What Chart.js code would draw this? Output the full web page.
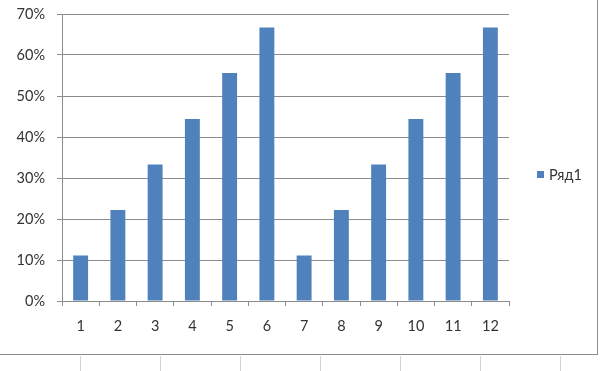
<!DOCTYPE html>
<html lang="ru">
  <head>
    <meta charset="UTF-8" />
    <title>Ряд1</title>
    <script src="https://cdn.jsdelivr.net/npm/chart.js"></script>
    <style>
      body {
        margin: 0;
        background: #fff;
        width: 600px;
        height: 371px;
        overflow: hidden;
        position: relative;
      }
      #box {
        position: absolute;
        left: 0;
        top: 0;
        width: 597px;
        height: 354px;
        border-right: 1px solid #8c8c8c;
        border-bottom: 1px solid #8c8c8c;
      }
      .cell {
        position: absolute;
        top: 356px;
        height: 15px;
        width: 1px;
        background: #d4d4d4;
      }
    </style>
  </head>
  <body>
    <div id="box"><canvas id="chart" width="597" height="354"></canvas></div>
    <div class="cell" style="left: 80px"></div>
    <div class="cell" style="left: 160px"></div>
    <div class="cell" style="left: 240px"></div>
    <div class="cell" style="left: 320px"></div>
    <div class="cell" style="left: 400px"></div>
    <div class="cell" style="left: 480px"></div>
    <div class="cell" style="left: 560px"></div>

    <script>
      const categories = ["1", "2", "3", "4", "5", "6", "7", "8", "9", "10", "11", "12"];
      const seriesName = "Ряд1";
      const values = [0.111, 0.222, 0.333, 0.444, 0.556, 0.667, 0.111, 0.222, 0.333, 0.444, 0.556, 0.667];
      const yMax = 0.7;
      const yStep = 0.1;

      const textColor = "#333333";
      const gridColor = "#8c8c8c";
      const barColor = "#4f81bd";
      const font = { family: "Lato, 'Open Sans', sans-serif", size: 14.5 };

      // legend drawn by hand so the plot area keeps its place
      const sideLegend = {
        id: "sideLegend",
        afterDraw(chart) {
          const ctx = chart.ctx;
          const ds = chart.data.datasets[0];
          ctx.save();
          ctx.fillStyle = ds.backgroundColor;
          ctx.fillRect(537, 171, 7, 7);
          ctx.fillStyle = textColor;
          ctx.font = font.size + "px " + font.family;
          ctx.textBaseline = "middle";
          ctx.fillText(ds.label, 549, 175);
          ctx.restore();
        },
      };

      new Chart(document.getElementById("chart"), {
        type: "bar",
        data: {
          labels: categories,
          datasets: [
            {
              label: seriesName,
              data: values,
              backgroundColor: barColor,
              categoryPercentage: 1,
              barPercentage: 0.4,
            },
          ],
        },
        options: {
          responsive: false,
          animation: false,
          layout: { padding: { top: 14, right: 88, left: 0, bottom: 0 } },
          plugins: {
            legend: { display: false },
            tooltip: { enabled: false },
          },
          scales: {
            x: {
              afterFit: (s) => { s.height = 53; },
              grid: {
                offset: true,
                drawOnChartArea: false,
                color: gridColor,
                tickLength: 5,
              },
              border: { color: gridColor },
              ticks: { color: textColor, font: font, padding: 12 },
            },
            y: {
              min: 0,
              max: yMax,
              afterFit: (s) => {
                s.width = 62;
                s.paddingTop = 0;
                s.paddingBottom = 0;
              },
              ticks: {
                stepSize: yStep,
                color: textColor,
                font: font,
                padding: 12,
                callback: (v) => Math.round(v * 100) + "%",
              },
              grid: { color: gridColor, tickLength: 5 },
              border: { color: gridColor },
            },
          },
        },
        plugins: [sideLegend],
      });
    </script>
  </body>
</html>
